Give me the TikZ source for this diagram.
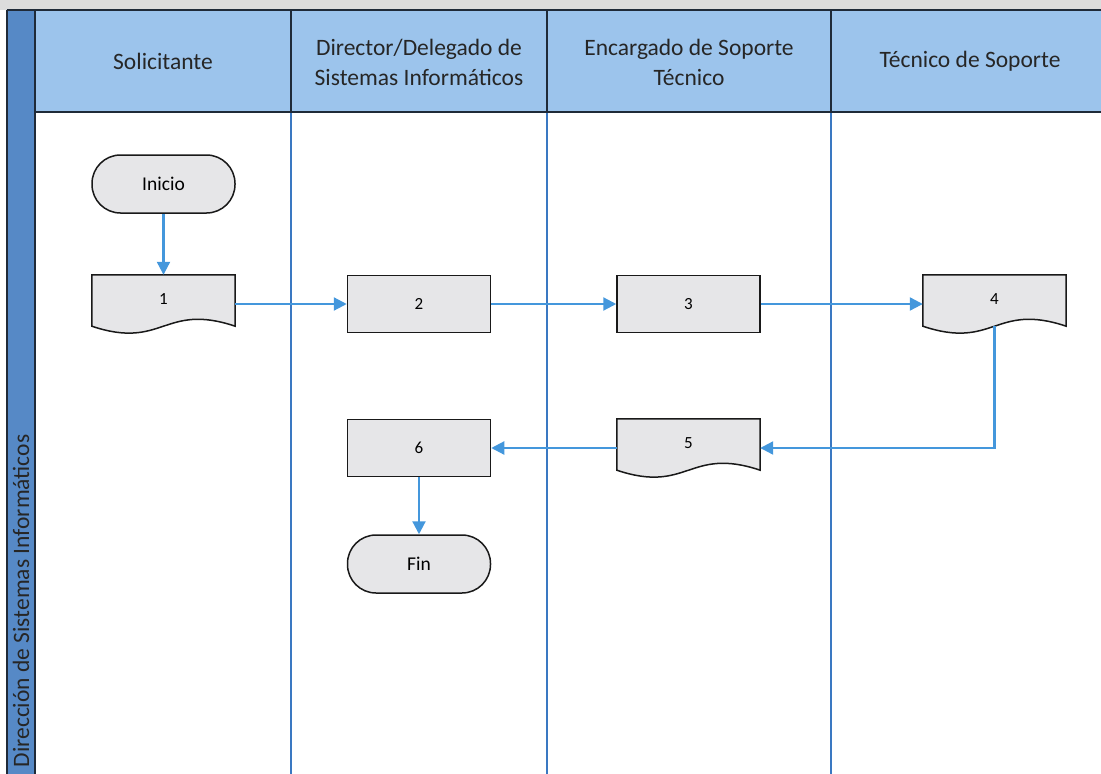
\documentclass[tikz,border=0pt]{standalone}
\usepackage{fontspec}
\setmainfont{Carlito}
\usetikzlibrary{arrows.meta}
\definecolor{headerfill}{HTML}{9CC4EC}
\definecolor{stripfill}{HTML}{5689C6}
\definecolor{lanelineblue}{HTML}{3A78C2}
\definecolor{flowblue}{HTML}{4497DC}
\definecolor{shapefill}{HTML}{E6E6E8}
\definecolor{frameline}{HTML}{1F2A38}
\definecolor{topband}{HTML}{DCDCDC}
\pgfdeclarelayer{shapes}
\pgfsetlayers{shapes,main}
\tikzset{
  headtext/.style={font=\fontsize{23.5}{30}\selectfont, text=black!85, align=center},
  frame/.style={draw=frameline, line width=1.5pt},
  laneline/.style={draw=lanelineblue, line width=1.4pt},
  shapeline/.style={draw=black!90, line width=1.5pt, fill=shapefill},
  procbox/.style={shapeline, minimum width=143pt, minimum height=57pt, inner sep=0pt,
    font=\fontsize{17}{20}\selectfont},
  docbox/.style={minimum width=143pt, minimum height=51pt, inner sep=0pt,
    font=\fontsize{17}{20}\selectfont},
  termbox/.style={shapeline, rounded corners=28.5pt, minimum width=143pt, minimum height=58pt,
    inner sep=0pt, font=\fontsize{19.5}{22}\selectfont},
  flow/.style={draw=flowblue, line width=2.2pt, -{Triangle[length=13pt,width=13pt]}},
}
% document symbol: flat top, wavy bottom edge
\newcommand\docoutline[1]{%
  \begin{pgfonlayer}{shapes}
  \filldraw[shapeline] (#1.south west) -- (#1.north west) -- (#1.north east) -- (#1.south east)
    .. controls ([xshift=-71.5pt,yshift=24pt]#1.south east)
            and ([xshift=71.5pt,yshift=-24pt]#1.south west) .. (#1.south west) -- cycle;
  \end{pgfonlayer}}
\begin{document}
\begin{tikzpicture}[x=1pt,y=-1pt]
\useasboundingbox (0,0) rectangle (1101,774);
% top band and header row
\fill[topband] (0,0) rectangle (1101,10);
\fill[headerfill] (35,10) rectangle (1101,112);
\fill[stripfill] (7,10) rectangle (35,774);
% lane separators
\draw[laneline] (291,112) -- (291,774);
\draw[laneline] (547,112) -- (547,774);
\draw[laneline] (831,112) -- (831,774);
\draw[frame] (291,10) -- (291,112);
\draw[frame] (547,10) -- (547,112);
\draw[frame] (831,10) -- (831,112);
\draw[frame] (7,10) -- (1101,10);
\draw[frame] (35,112) -- (1101,112);
\draw[frame] (7,10) -- (7,774);
\draw[frame] (35,10) -- (35,774);
% lane titles
\node[headtext] (h1) at (163,61) {Solicitante};
\node[headtext] (h2) at (419,62) {Director/Delegado de\\Sistemas Informáticos};
\node[headtext] (h3) at (689,62) {Encargado de Soporte\\Técnico};
\node[headtext] (h4) at (970,61) {Técnico de Soporte};
\node[headtext, rotate=90] (pool) at (21,601) {Dirección de Sistemas Informáticos};
% flow shapes
\node[termbox] (inicio) at (163.5,184) {Inicio};
\node[docbox] (d1) at (163.5,300.5) {\raisebox{2pt}{1}};
\node[procbox] (b2) at (419,304) {2};
\node[procbox] (b3) at (688.5,304) {3};
\node[docbox] (d4) at (994.5,300.5) {\raisebox{2pt}{4}};
\node[docbox] (d5) at (688.5,444.5) {\raisebox{2pt}{5}};
\node[procbox] (b6) at (419,448) {6};
\node[termbox] (fin) at (419,564) {Fin};
\docoutline{d1}
\docoutline{d4}
\docoutline{d5}
% connectors
\draw[flow] (inicio) -- (d1);
\draw[flow] (d1.east |- b2.west) -- (b2.west);
\draw[flow] (b2) -- (b3);
\draw[flow] (b3.east) -- (d4.west |- b3.east);
\draw[flow] (d4.south) |- (d5.east |- b6.east);
\draw[flow] (d5.west |- b6.east) -- (b6.east);
\draw[flow] (b6) -- (fin);
\end{tikzpicture}
\end{document}
